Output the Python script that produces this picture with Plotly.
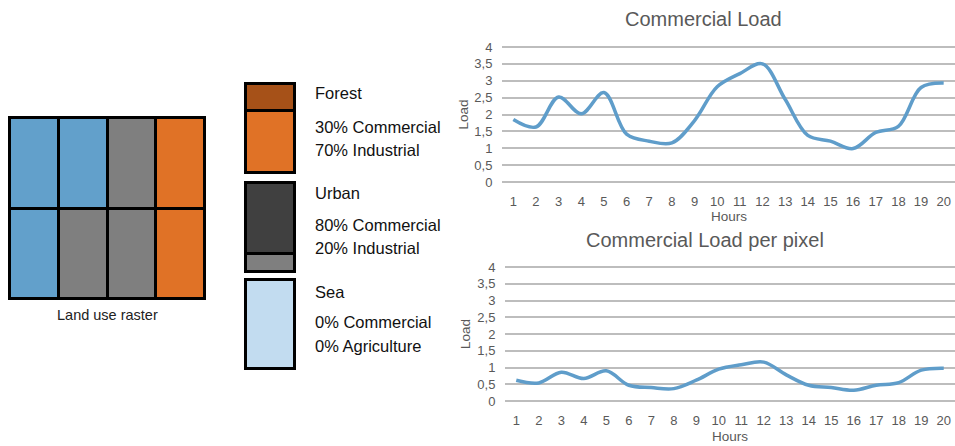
import plotly.graph_objects as go

# ---------------- data ----------------
hours = list(range(1, 21))
commercial_load = [1.85, 1.63, 2.52, 2.02, 2.65, 1.42, 1.21, 1.16, 1.82, 2.82,
                   3.21, 3.50, 2.45, 1.38, 1.21, 0.99, 1.47, 1.65, 2.80, 2.93]
commercial_load_per_pixel = [0.62, 0.54, 0.86, 0.67, 0.90, 0.47, 0.40, 0.37, 0.62, 0.95,
                             1.08, 1.16, 0.78, 0.47, 0.40, 0.32, 0.47, 0.55, 0.92, 0.98]
y_ticks = [0, 0.5, 1, 1.5, 2, 2.5, 3, 3.5, 4]
y_tick_text = [str(v).replace(".", ",") if v != int(v) else str(int(v)) for v in y_ticks]

# land use raster (top row first), 4 columns x 2 rows
raster_top_row = ["Sea", "Sea", "Urban", "Forest"]
raster_bottom_row = ["Sea", "Urban", "Urban", "Forest"]

land_types = ["Forest", "Urban", "Sea"]
commercial_share = [30, 80, 0]
other_share = [70, 20, 100]
other_label = ["Industrial", "Industrial", "Agriculture"]
other_label_share = [70, 20, 0]

# ---------------- styles ----------------
W, H = 955, 446
FONT = "Liberation Sans, Arial, sans-serif"
GRAY_TXT = "#595959"
LINE_COL = "#5f9dca"
GRID_COL = "#bdbdbd"
raster_color = {"Sea": "#62a0cb", "Urban": "#7f7f7f", "Forest": "#e07226"}
commercial_color = {"Forest": "#a65118", "Urban": "#404040", "Sea": "#404040"}
other_color = {"Forest": "#e07226", "Urban": "#7f7f7f", "Sea": "#c2dcf0"}


def padded(a, b, p0, p1, pad):
    """data [a,b] placed at pixel span [p0,p1] (p0<p1) with pad px each side."""
    k = (b - a) / (p1 - p0)
    return [p0 - pad, p1 + pad], [a - pad * k, b + pad * k]


def xdom(px):
    return [px[0] / W, px[1] / W]


def ydom(py):  # py = [top, bottom] in pixels
    return [1 - py[1] / H, 1 - py[0] / H]


fig = go.Figure()
layout = {}
annotations = []


def ann(text, x, y, size, color, xanchor="center", angle=0):
    annotations.append(dict(text=text, x=x / W, y=1 - y / H, xref="paper", yref="paper",
                            xanchor=xanchor, yanchor="middle", showarrow=False,
                            textangle=angle, font=dict(family=FONT, size=size, color=color)))


# ---------------- line charts ----------------
charts = [
    ("x", "y", commercial_load, "Commercial Load", (502, 955), (47, 182)),
    ("x2", "y2", commercial_load_per_pixel, "Commercial Load per pixel", (505, 955), (267, 401)),
]
for i, (xa, ya, vals, title, px, py) in enumerate(charts):
    fig.add_trace(go.Scatter(x=hours, y=vals, mode="lines", xaxis=xa, yaxis=ya,
                             line=dict(color=LINE_COL, width=3.5, shape="spline", smoothing=1.0),
                             showlegend=False, hoverinfo="skip"))
    yd, yr = padded(0, 4, py[0], py[1], 2)
    suffix = "" if i == 0 else "2"
    layout["xaxis" + suffix] = dict(domain=xdom(px), range=[0.5, 20.5], tickvals=hours,
                                    showgrid=False, zeroline=False, showline=False,
                                    ticks="outside", ticklen=5, tickcolor="rgba(0,0,0,0)",
                                    tickfont=dict(family=FONT, size=13, color=GRAY_TXT),
                                    anchor=ya, fixedrange=True, automargin=False)
    layout["yaxis" + suffix] = dict(domain=ydom([yd[0], yd[1]]), range=[yr[0], yr[1]],
                                    tickvals=y_ticks, ticktext=y_tick_text,
                                    showgrid=True, gridcolor=GRID_COL, gridwidth=1.5,
                                    zeroline=False, showline=False,
                                    ticks="outside", ticklen=6, tickcolor="rgba(0,0,0,0)",
                                    tickfont=dict(family=FONT, size=13, color=GRAY_TXT),
                                    anchor=xa, fixedrange=True, automargin=False)
    cx = (px[0] + px[1]) / 2
    ann(title, 703 if i == 0 else 705, 19 if i == 0 else 240, 20, GRAY_TXT)
    ann("Hours", cx, py[1] + 35, 13.5, GRAY_TXT)
    ann("Load", 463 if i == 0 else 465, (py[0] + py[1]) / 2, 13.5, GRAY_TXT, angle=-90)

# ---------------- land use raster (stacked bars: bottom row, top row) ----------------
cols = list(range(len(raster_top_row)))
for row in (raster_bottom_row, raster_top_row):
    fig.add_trace(go.Bar(x=cols, y=[1] * len(row), xaxis="x3", yaxis="y3", width=1,
                         marker=dict(color=[raster_color[c] for c in row],
                                     line=dict(color="#000000", width=3)),
                         showlegend=False, hoverinfo="skip"))
xd, xr = padded(-0.5, 3.5, 9.5, 204.5, 3)
yd, yr = padded(0, 2, 117.5, 298.5, 3)
layout["xaxis3"] = dict(domain=xdom(xd), range=xr, visible=False, anchor="y3",
                        fixedrange=True, automargin=False)
layout["yaxis3"] = dict(domain=ydom(yd), range=yr, visible=False, anchor="x3",
                        fixedrange=True, automargin=False)
ann("Land use raster", 107, 315, 14.5, "#222222")

# ---------------- key boxes ----------------
box_py = [(83.5, 172.5), (182.5, 271.5), (279.5, 368.5)]
text_py = [(93, 127, 150), (193, 225, 248), (292, 322, 346)]
for j, lt in enumerate(land_types):
    n = str(4 + j)
    fig.add_trace(go.Bar(x=[0], y=[other_share[j]], xaxis="x" + n, yaxis="y" + n, width=1,
                         marker=dict(color=other_color[lt], line=dict(color="#000000", width=3)),
                         showlegend=False, hoverinfo="skip"))
    if commercial_share[j] > 0:
        fig.add_trace(go.Bar(x=[0], y=[commercial_share[j]], xaxis="x" + n, yaxis="y" + n, width=1,
                             marker=dict(color=commercial_color[lt], line=dict(color="#000000", width=3)),
                             showlegend=False, hoverinfo="skip"))
    xd, xr = padded(-0.5, 0.5, 245.5, 294.5, 3)
    yd, yr = padded(0, 100, box_py[j][0], box_py[j][1], 3)
    layout["xaxis" + n] = dict(domain=xdom(xd), range=xr, visible=False, anchor="y" + n,
                               fixedrange=True, automargin=False)
    layout["yaxis" + n] = dict(domain=ydom(yd), range=yr, visible=False, anchor="x" + n,
                               fixedrange=True, automargin=False)
    ann(lt, 313, text_py[j][0], 16.5, "#111111", xanchor="left")
    ann(f"{commercial_share[j]}% Commercial", 313, text_py[j][1], 16.5, "#111111", xanchor="left")
    ann(f"{other_label_share[j]}% {other_label[j]}", 313, text_py[j][2], 16.5, "#111111",
        xanchor="left")

fig.update_layout(
    template="none",
    width=W, height=H, margin=dict(l=0, r=0, t=0, b=0, pad=0),
    paper_bgcolor="white", plot_bgcolor="rgba(0,0,0,0)",
    barmode="stack", bargap=0, showlegend=False,
    annotations=annotations, font=dict(family=FONT),
    **layout,
)
fig.write_html("out.html", config={"displayModeBar": False})
